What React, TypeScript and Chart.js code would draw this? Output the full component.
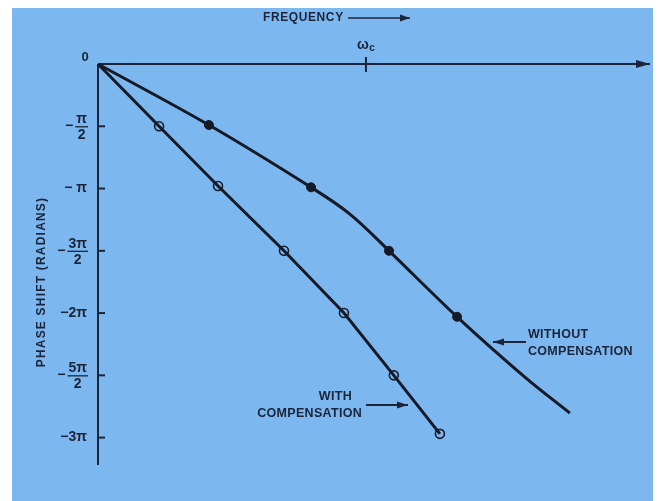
import React, { useEffect, useRef } from "react";
import { Chart, registerables } from "chart.js";

Chart.register(...registerables);

// Frequency normalised to the crossover frequency (x = w / wc); phase in units of pi.
const withoutX = [0, 0.414, 0.795, 0.94, 1.086, 1.34, 1.593, 1.761];
const withoutY = [0, -0.49, -0.99, -1.205, -1.5, -2.03, -2.514, -2.803];
const withoutMarked = [false, true, true, false, true, true, false, false];

const withX = [0, 0.228, 0.448, 0.694, 0.918, 1.104, 1.276];
const withY = [0, -0.5, -0.98, -1.5, -2.0, -2.5, -2.97];
const withMarked = [false, true, true, true, true, true, true];

const yTickValues = [-0.5, -1, -1.5, -2, -2.5, -3];
const yTickNumerators = ["π", "π", "3π", "2π", "5π", "3π"];
const yTickDenominators = ["2", "", "2", "", "2", ""];

const xTitle = "FREQUENCY";
const yTitle = "PHASE SHIFT (RADIANS)";
const crossoverX = 1;
const labelWithout = ["WITHOUT", "COMPENSATION"];
const labelWith = ["WITH", "COMPENSATION"];

const BLUE = "#7db7ef";
const INK = "#1b2438";
const LINE = "#151a26";
const FONT = "'Liberation Sans', Arial, sans-serif";

function arrowHead(ctx: CanvasRenderingContext2D, x1: number, y1: number, x2: number, y2: number, len: number, half: number) {
  const a = Math.atan2(y2 - y1, x2 - x1);
  ctx.beginPath();
  ctx.moveTo(x2, y2);
  ctx.lineTo(x2 - len * Math.cos(a) + half * Math.sin(a), y2 - len * Math.sin(a) - half * Math.cos(a));
  ctx.lineTo(x2 - len * Math.cos(a) - half * Math.sin(a), y2 - len * Math.sin(a) + half * Math.cos(a));
  ctx.closePath();
  ctx.fill();
}

function arrow(ctx: CanvasRenderingContext2D, x1: number, y1: number, x2: number, y2: number, len = 10, half = 3.5) {
  ctx.beginPath();
  ctx.moveTo(x1, y1);
  ctx.lineTo(x2, y2);
  ctx.stroke();
  arrowHead(ctx, x1, y1, x2, y2, len, half);
}

const decorPlugin = {
  id: "decor",
  beforeDraw(chart: any) {
    const ctx: CanvasRenderingContext2D = chart.ctx;
    ctx.save();
    ctx.fillStyle = "#ffffff";
    ctx.fillRect(0, 0, chart.width, chart.height);
    ctx.fillStyle = BLUE;
    ctx.fillRect(12, 8, 641, chart.height - 8);
    ctx.restore();
  },
  beforeDatasetsDraw(chart: any) {
    const ctx: CanvasRenderingContext2D = chart.ctx;
    const xs = chart.scales.x;
    const ys = chart.scales.y;
    const ca = chart.chartArea;
    const x0 = xs.getPixelForValue(0);
    const y0 = ys.getPixelForValue(0);
    ctx.save();
    ctx.strokeStyle = INK;
    ctx.fillStyle = INK;
    ctx.lineWidth = 2;
    ctx.beginPath();
    ctx.moveTo(x0, y0);
    ctx.lineTo(x0, ca.bottom);
    ctx.stroke();
    arrow(ctx, x0, y0, ca.right, y0, 14, 4);
    yTickValues.forEach((v) => {
      const py = ys.getPixelForValue(v);
      ctx.beginPath();
      ctx.moveTo(x0, py);
      ctx.lineTo(x0 + 7, py);
      ctx.stroke();
    });
    const cx = xs.getPixelForValue(crossoverX);
    ctx.beginPath();
    ctx.moveTo(cx, y0 - 7);
    ctx.lineTo(cx, y0 + 8);
    ctx.stroke();
    ctx.restore();
  },
  afterDraw(chart: any) {
    const ctx: any = chart.ctx;
    const xs = chart.scales.x;
    const ys = chart.scales.y;
    const x0 = xs.getPixelForValue(0);
    ctx.save();
    ctx.fillStyle = INK;
    ctx.strokeStyle = INK;

    // top title with arrow
    ctx.font = `bold 12px ${FONT}`;
    ctx.letterSpacing = "0.6px";
    ctx.textBaseline = "middle";
    ctx.textAlign = "left";
    ctx.fillText(xTitle, 263, 18);
    ctx.letterSpacing = "0px";
    ctx.lineWidth = 1.5;
    arrow(ctx, 348, 18, 410, 18, 10, 3.5);

    // omega_c
    const cx = xs.getPixelForValue(crossoverX);
    ctx.font = `bold 14px ${FONT}`;
    ctx.textAlign = "center";
    ctx.fillText("ω", cx - 3, 45);
    ctx.font = `bold 10px ${FONT}`;
    ctx.fillText("c", cx + 6, 48);

    // origin label
    ctx.font = `bold 13px ${FONT}`;
    ctx.textAlign = "center";
    ctx.fillText("0", x0 - 13, 57);

    // y tick labels
    yTickValues.forEach((v, i) => {
      const py = ys.getPixelForValue(v);
      const num = yTickNumerators[i];
      const den = yTickDenominators[i];
      const right = x0 - 11;
      ctx.font = `bold 14px ${FONT}`;
      if (den) {
        const w = Math.max(ctx.measureText(num).width, 9);
        const cxl = right - w / 2;
        ctx.textAlign = "center";
        ctx.fillText(num, cxl, py - 7);
        ctx.fillText(den, cxl, py + 9);
        ctx.lineWidth = 1.3;
        ctx.beginPath();
        ctx.moveTo(right - w - 1, py + 0.5);
        ctx.lineTo(right + 1, py + 0.5);
        ctx.stroke();
        ctx.textAlign = "right";
        ctx.fillText("−", right - w - 3, py);
      } else {
        ctx.textAlign = "right";
        ctx.fillText("−" + (num === "π" ? " " : "") + num, right, py);
      }
    });

    // y axis title
    ctx.save();
    ctx.translate(42, 282);
    ctx.rotate(-Math.PI / 2);
    ctx.font = `bold 12px ${FONT}`;
    ctx.letterSpacing = "1.2px";
    ctx.textAlign = "center";
    ctx.textBaseline = "middle";
    ctx.fillText(yTitle, 0, 0);
    ctx.restore();

    // curve annotations
    ctx.font = `bold 12.5px ${FONT}`;
    ctx.letterSpacing = "0.3px";
    ctx.textAlign = "left";
    ctx.textBaseline = "middle";
    ctx.fillText(labelWithout[0], 528, 335);
    ctx.fillText(labelWithout[1], 528, 352);
    ctx.letterSpacing = "0px";
    ctx.lineWidth = 1.8;
    arrow(ctx, 526, 342, 493, 342, 11, 3.5);

    ctx.letterSpacing = "0.3px";
    ctx.textAlign = "right";
    ctx.fillText(labelWith[0], 352, 397);
    ctx.fillText(labelWith[1], 362, 414);
    ctx.letterSpacing = "0px";
    arrow(ctx, 366, 405, 408, 405, 11, 3.5);

    ctx.restore();
  },
};

export default function App() {
  const ref = useRef<HTMLCanvasElement | null>(null);
  useEffect(() => {
    if (!ref.current) return;
    const chart = new Chart(ref.current, {
      type: "scatter",
      data: {
        datasets: [
          {
            label: "Without compensation",
            data: withoutX.map((x, i) => ({ x, y: withoutY[i] })),
            showLine: true,
            borderColor: LINE,
            borderWidth: 3,
            tension: 0.35,
            pointRadius: withoutMarked.map((m) => (m ? 4.5 : 0)),
            pointBackgroundColor: LINE,
            pointBorderColor: LINE,
            pointBorderWidth: 1,
            clip: false,
          } as any,
          {
            label: "With compensation",
            data: withX.map((x, i) => ({ x, y: withY[i] })),
            showLine: true,
            borderColor: LINE,
            borderWidth: 3,
            tension: 0,
            pointRadius: withMarked.map((m) => (m ? 4.5 : 0)),
            pointBackgroundColor: "rgba(0,0,0,0)",
            pointBorderColor: LINE,
            pointBorderWidth: 1.6,
            clip: false,
          } as any,
        ],
      },
      options: {
        responsive: false,
        maintainAspectRatio: false,
        animation: false,
        devicePixelRatio: 1,
        events: [],
        layout: { padding: { left: 98, top: 64, right: 9, bottom: 36 } },
        scales: {
          x: { type: "linear", display: false, min: 0, max: 2.06 },
          y: { type: "linear", display: false, min: -3.22, max: 0 },
        },
        plugins: { legend: { display: false }, tooltip: { enabled: false } },
      },
      plugins: [decorPlugin],
    });
    return () => chart.destroy();
  }, []);
  return (
    <div style={{ position: "absolute", left: 0, top: 0, width: 659, height: 501 }}>
      <canvas ref={ref} width={659} height={501} style={{ display: "block" }} />
    </div>
  );
}
